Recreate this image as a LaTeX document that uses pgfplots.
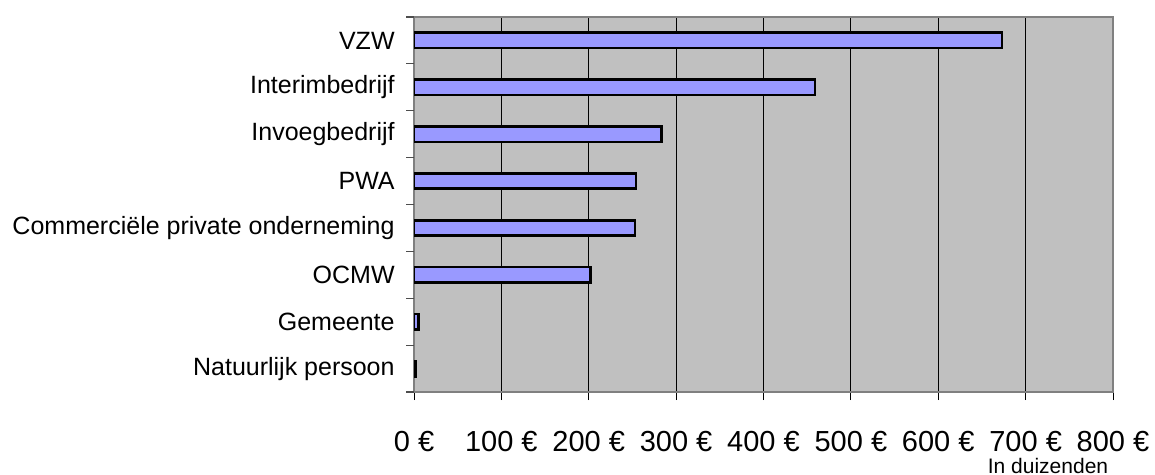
\documentclass[border=0pt]{standalone}
\usepackage{fontspec}
\setmainfont{Liberation Sans}
\usepackage{pgfplots}
\pgfplotsset{compat=1.18}
\definecolor{bg}{HTML}{C0C0C0}
\definecolor{barfill}{HTML}{9999FF}
\definecolor{frame}{HTML}{808080}
\begin{document}
\begin{tikzpicture}
\path[use as bounding box] (0,0) rectangle (577.5pt,-237.5pt);
\begin{axis}[
  at={(207pt,-196pt)}, anchor=south west,
  scale only axis, width=349.5pt, height=187.5pt,
  xbar, bar width=7.7pt,
  xmin=0, xmax=800, ymin=0.5, ymax=8.5,
  axis background/.style={fill=bg},
  axis line style={draw=frame, line width=0.9pt},
  xtick={0,100,...,800},
  xticklabel={\pgfmathprintnumber{\tick}\ €},
  /pgf/number format/assume math mode=true,
  xticklabel style={font=\fontsize{14.5}{16}\selectfont, anchor=base, yshift=-25.5pt},
  tick align=outside, major tick length=4pt,
  xtick pos=left, ytick pos=left,
  xtick style={draw=black, line width=0.5pt},
  xmajorgrids, major grid style={draw=black, line width=0.5pt},
  ytick={1,...,8},
  yticklabels={Natuurlijk persoon, Gemeente, OCMW, Commerciële private onderneming, PWA, Invoegbedrijf, Interimbedrijf, VZW},
  yticklabel style={font=\fontsize{12.5}{14}\selectfont, anchor=east, inner sep=0pt, xshift=-5.5pt},
  ytick style={draw=none},
  extra y ticks={0.5,1.5,...,8.5},
  extra y tick labels={},
  extra y tick style={ytick style={draw=frame!60!black, line width=0.6pt}, grid=none, ytick pos=left},
]
\addplot[fill=barfill, draw=black, line width=1.3pt] coordinates {
  (1.5,1) (5,2) (202,3) (253,4) (254,5) (283,6) (459,7) (673,8)
};
\end{axis}
\node[anchor=base, font=\fontsize{10.5}{12}\selectfont] at (524pt,-236.5pt) {In duizenden};
\end{tikzpicture}
\end{document}
